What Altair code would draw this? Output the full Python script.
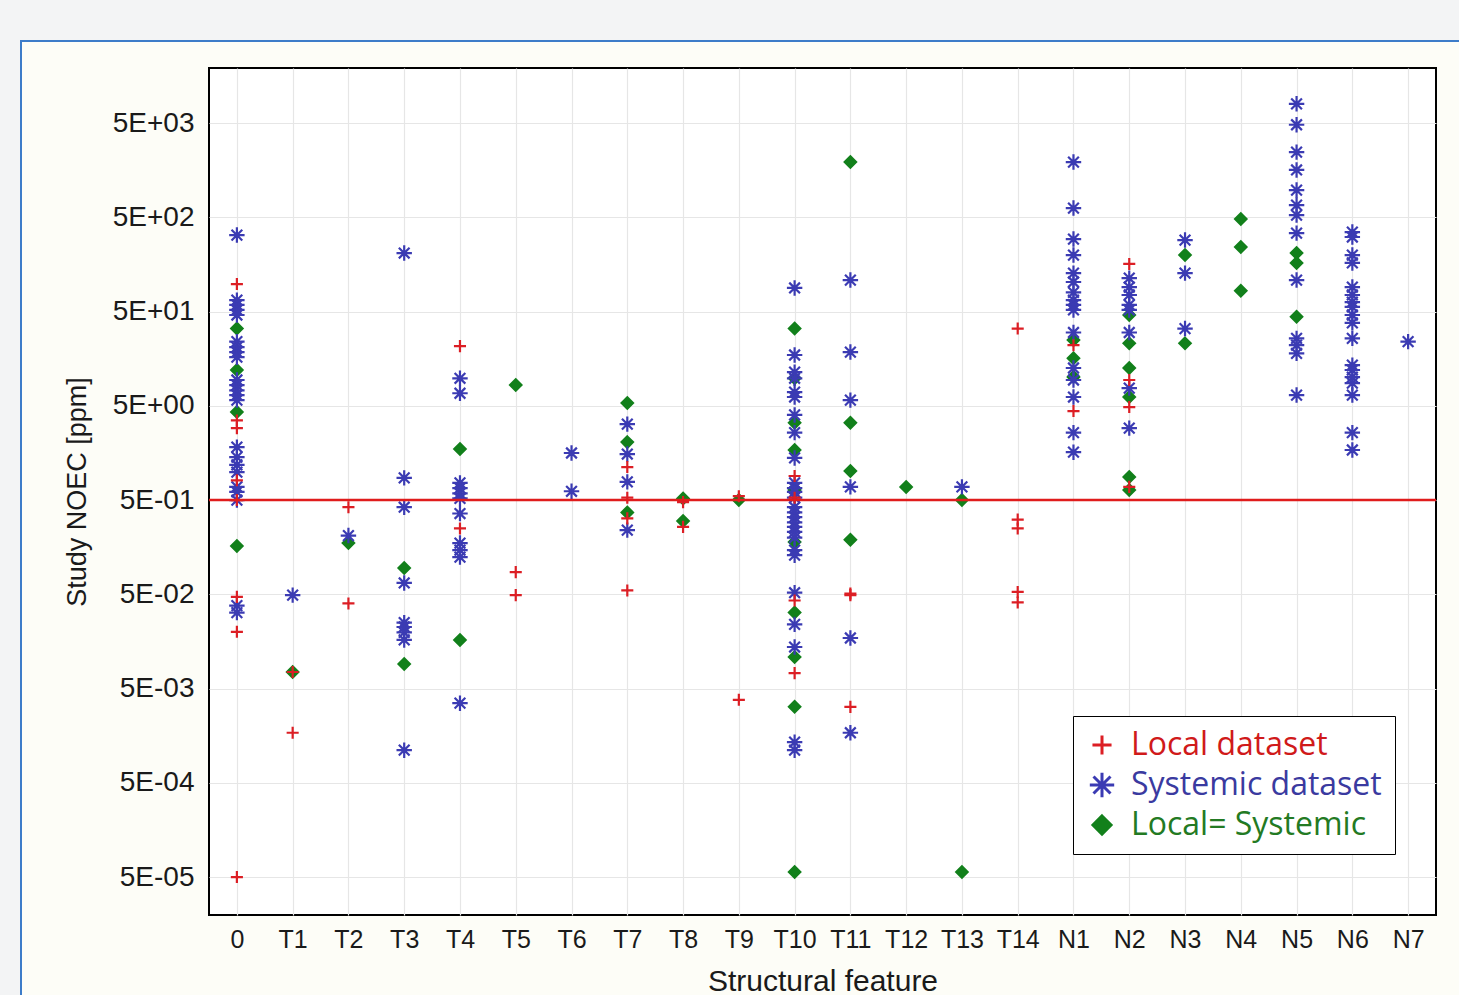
import altair as alt
import pandas as pd

categories = ["0", "T1", "T2", "T3", "T4", "T5", "T6", "T7", "T8", "T9", "T10",
              "T11", "T12", "T13", "T14", "N1", "N2", "N3", "N4", "N5", "N6", "N7"]

series_names = ["Local dataset", "Systemic dataset", "Local= Systemic"]
series_colors = ["#dc1e24", "#3b3bb3", "#12801b"]
label_colors = ["#d01a1a", "#3a3aa0", "#237a23"]

y_tick_values = [5e-05, 5e-04, 5e-03, 5e-02, 5e-01, 5e+00, 5e+01, 5e+02, 5e+03]
y_tick_labels = ["5E-05", "5E-04", "5E-03", "5E-02", "5E-01", "5E+00", "5E+01", "5E+02", "5E+03"]
threshold = [0.5]

local_points = [
    ("0", 98), ("0", 3.5), ("0", 2.9), ("0", 0.81), ("0", 0.5), ("0", 0.047), ("0", 0.020), ("0", 5e-05),
    ("T1", 0.0075), ("T1", 0.0017),
    ("T2", 0.42), ("T2", 0.040),
    ("T4", 21.5), ("T4", 0.25),
    ("T5", 0.086), ("T5", 0.049),
    ("T7", 1.12), ("T7", 0.53), ("T7", 0.32), ("T7", 0.055),
    ("T8", 0.476), ("T8", 0.26),
    ("T9", 0.55), ("T9", 0.0038),
    ("T10", 0.90), ("T10", 0.53), ("T10", 0.043), ("T10", 0.0073),
    ("T11", 0.049), ("T11", 0.051), ("T11", 0.0032),
    ("T14", 33), ("T14", 0.31), ("T14", 0.25), ("T14", 0.053), ("T14", 0.041),
    ("N1", 22), ("N1", 4.4),
    ("N2", 160), ("N2", 9.4), ("N2", 4.85), ("N2", 0.69),
]

systemic_points = [
    ("0", 324), ("0", 66), ("0", 59), ("0", 52), ("0", 46), ("0", 24), ("0", 21), ("0", 18.6),
    ("0", 16.4), ("0", 9.4), ("0", 8.3), ("0", 7.3), ("0", 6.5), ("0", 5.75), ("0", 1.82),
    ("0", 1.43), ("0", 1.18), ("0", 0.99), ("0", 0.69), ("0", 0.61), ("0", 0.5), ("0", 0.038), ("0", 0.032),
    ("T1", 0.049),
    ("T2", 0.21),
    ("T3", 209), ("T3", 0.86), ("T3", 0.42), ("T3", 0.066), ("T3", 0.025), ("T3", 0.0225),
    ("T3", 0.0197), ("T3", 0.0164), ("T3", 0.00111),
    ("T4", 9.8), ("T4", 6.8), ("T4", 0.76), ("T4", 0.67), ("T4", 0.59), ("T4", 0.52), ("T4", 0.36),
    ("T4", 0.175), ("T4", 0.147), ("T4", 0.124), ("T4", 0.0035),
    ("T6", 1.58), ("T6", 0.62),
    ("T7", 3.2), ("T7", 1.54), ("T7", 0.78), ("T7", 0.24),
    ("T10", 89), ("T10", 17.3), ("T10", 11.4), ("T10", 9.8), ("T10", 7.0), ("T10", 6.2), ("T10", 4.0),
    ("T10", 2.6), ("T10", 1.40), ("T10", 0.76), ("T10", 0.67), ("T10", 0.61), ("T10", 0.53),
    ("T10", 0.42), ("T10", 0.37), ("T10", 0.33), ("T10", 0.29), ("T10", 0.26), ("T10", 0.23),
    ("T10", 0.20), ("T10", 0.147), ("T10", 0.130), ("T10", 0.052), ("T10", 0.024), ("T10", 0.0138),
    ("T10", 0.00135), ("T10", 0.00111),
    ("T11", 108), ("T11", 18.6), ("T11", 5.75), ("T11", 0.69), ("T11", 0.0172), ("T11", 0.0017),
    ("T13", 0.69),
    ("N1", 1930), ("N1", 627), ("N1", 294), ("N1", 199), ("N1", 128), ("N1", 103), ("N1", 80),
    ("N1", 66), ("N1", 59), ("N1", 52), ("N1", 30), ("N1", 12.6), ("N1", 9.4), ("N1", 6.2),
    ("N1", 2.6), ("N1", 1.61),
    ("N2", 113), ("N2", 91), ("N2", 75), ("N2", 59), ("N2", 52), ("N2", 30), ("N2", 7.7), ("N2", 2.9),
    ("N3", 287), ("N3", 128), ("N3", 33),
    ("N5", 8000), ("N5", 4800), ("N5", 2460), ("N5", 1590), ("N5", 973), ("N5", 675), ("N5", 528),
    ("N5", 340), ("N5", 108), ("N5", 26), ("N5", 22), ("N5", 18), ("N5", 6.5),
    ("N6", 349), ("N6", 309), ("N6", 199), ("N6", 164), ("N6", 91), ("N6", 75), ("N6", 63), ("N6", 56),
    ("N6", 46), ("N6", 38), ("N6", 26), ("N6", 13.5), ("N6", 12), ("N6", 10.1), ("N6", 8.7),
    ("N6", 6.5), ("N6", 2.6), ("N6", 1.70),
    ("N7", 24),
]

equal_points = [
    ("0", 33), ("0", 12), ("0", 4.3), ("0", 0.163),
    ("T1", 0.0075),
    ("T2", 0.175),
    ("T3", 0.095), ("T3", 0.0091),
    ("T4", 1.74), ("T4", 0.0164),
    ("T5", 8.3),
    ("T7", 5.35), ("T7", 2.06), ("T7", 0.37),
    ("T8", 0.52), ("T8", 0.30),
    ("T9", 0.5),
    ("T10", 33), ("T10", 9.8), ("T10", 3.3), ("T10", 1.70), ("T10", 0.64), ("T10", 0.18),
    ("T10", 0.032), ("T10", 0.0108), ("T10", 0.0032), ("T10", 5.65e-05),
    ("T11", 1930), ("T11", 3.3), ("T11", 1.02), ("T11", 0.19),
    ("T12", 0.69),
    ("T13", 0.5), ("T13", 5.65e-05),
    ("N1", 25), ("N1", 16), ("N1", 10.1),
    ("N2", 46), ("N2", 23), ("N2", 12.6), ("N2", 6.2), ("N2", 0.88), ("N2", 0.64),
    ("N3", 199), ("N3", 23),
    ("N4", 479), ("N4", 242), ("N4", 83),
    ("N5", 209), ("N5", 164), ("N5", 44),
]

# ---------------------------------------------------------------- table
rows = []
for name, pts in [(series_names[2], equal_points),
                  (series_names[1], systemic_points),
                  (series_names[0], local_points)]:
    for c, v in pts:
        rows.append({"feature": c, "noec": v, "dataset": name})
df = pd.DataFrame(rows)

shape_paths = [
    "M-0.9,0L0.9,0M0,-0.9L0,0.9",
    "M-1.15,0L1.15,0M0,-1.15L0,1.15M-0.8,-0.8L0.8,0.8M-0.8,0.8L0.8,-0.8",
    "M0,-0.85L0.85,0L0,0.85L-0.85,0Z",
]

label_color_expr = (
    f"datum.label == '{series_names[0]}' ? '{label_colors[0]}' : "
    f"datum.label == '{series_names[1]}' ? '{label_colors[1]}' : '{label_colors[2]}'"
)

legend = alt.Legend(
    title=None, orient="none", legendX=864, legendY=648,
    fillColor="white", strokeColor="black", padding=13, rowPadding=5,
    labelFont="Open Sans", labelFontSize=32, labelOffset=13, labelLimit=600,
    symbolSize=450, symbolStrokeWidth=3,
    labelColor={"expr": label_color_expr},
)

tick_expr = f"{y_tick_labels}[indexof({y_tick_values}, datum.value)]"

FONT = "Liberation Sans"

points = alt.Chart(df).mark_point(filled=True, size=180, strokeWidth=2.2, opacity=1).encode(
    x=alt.X("feature:N",
            scale=alt.Scale(type="point", domain=categories, padding=0.5),
            axis=alt.Axis(title="Structural feature", labelAngle=0, labelFontSize=25,
                          labelFont=FONT, labelColor="#1a1a1a", labelPadding=12,
                          ticks=False, domain=False, grid=True, gridColor="#e6e6e6",
                          gridWidth=1.2, titleFont=FONT, titleFontSize=30,
                          titleFontWeight="normal", titleColor="#1a1a1a", titlePadding=14)),
    y=alt.Y("noec:Q",
            scale=alt.Scale(type="log", domain=[1.98e-05, 1.92e04], nice=False),
            axis=alt.Axis(title="Study NOEC [ppm]", values=y_tick_values, labelExpr=tick_expr,
                          labelFontSize=28, labelFont=FONT, labelColor="#1a1a1a",
                          labelPadding=15, ticks=False, domain=False, grid=True,
                          gridColor="#e6e6e6", gridWidth=1.2, titleFont=FONT,
                          titleFontSize=27, titleFontWeight="normal", titleColor="#1a1a1a",
                          titlePadding=21)),
    color=alt.Color("dataset:N", scale=alt.Scale(domain=series_names, range=series_colors), legend=legend),
    stroke=alt.Stroke("dataset:N", scale=alt.Scale(domain=series_names, range=series_colors), legend=legend),
    shape=alt.Shape("dataset:N", scale=alt.Scale(domain=series_names, range=shape_paths), legend=legend),
)

rule = alt.Chart(pd.DataFrame({"noec": threshold})).mark_rule(
    color="#e01c1c", strokeWidth=2.5).encode(y="noec:Q")

dummy = pd.DataFrame({"d": [0]})


def strip(x, x2, y, y2, color):
    return alt.Chart(dummy).mark_rect(color=color).encode(
        x=alt.value(x), x2=alt.value(x2), y=alt.value(y), y2=alt.value(y2))


deco = [
    strip(-209, 1250, -68, -28, "#f3f4f5"),
    strip(-209, -189, -28, 927, "#f3f4f5"),
    strip(-189, 1250, -28, -26, "#3d7cc9"),
    strip(-189, -187, -28, 927, "#3d7cc9"),
]

chart = alt.layer(*deco, points, rule).properties(
    width=1227, height=847,
    autosize=alt.AutoSizeParams(type="none"),
    padding={"left": 209, "top": 68, "right": 23, "bottom": 80},
    background="#fdfdf7",
).configure_view(stroke="#000000", strokeWidth=2, fill="white")

chart.save("out.html", embed_options={"renderer": "svg", "actions": False})
